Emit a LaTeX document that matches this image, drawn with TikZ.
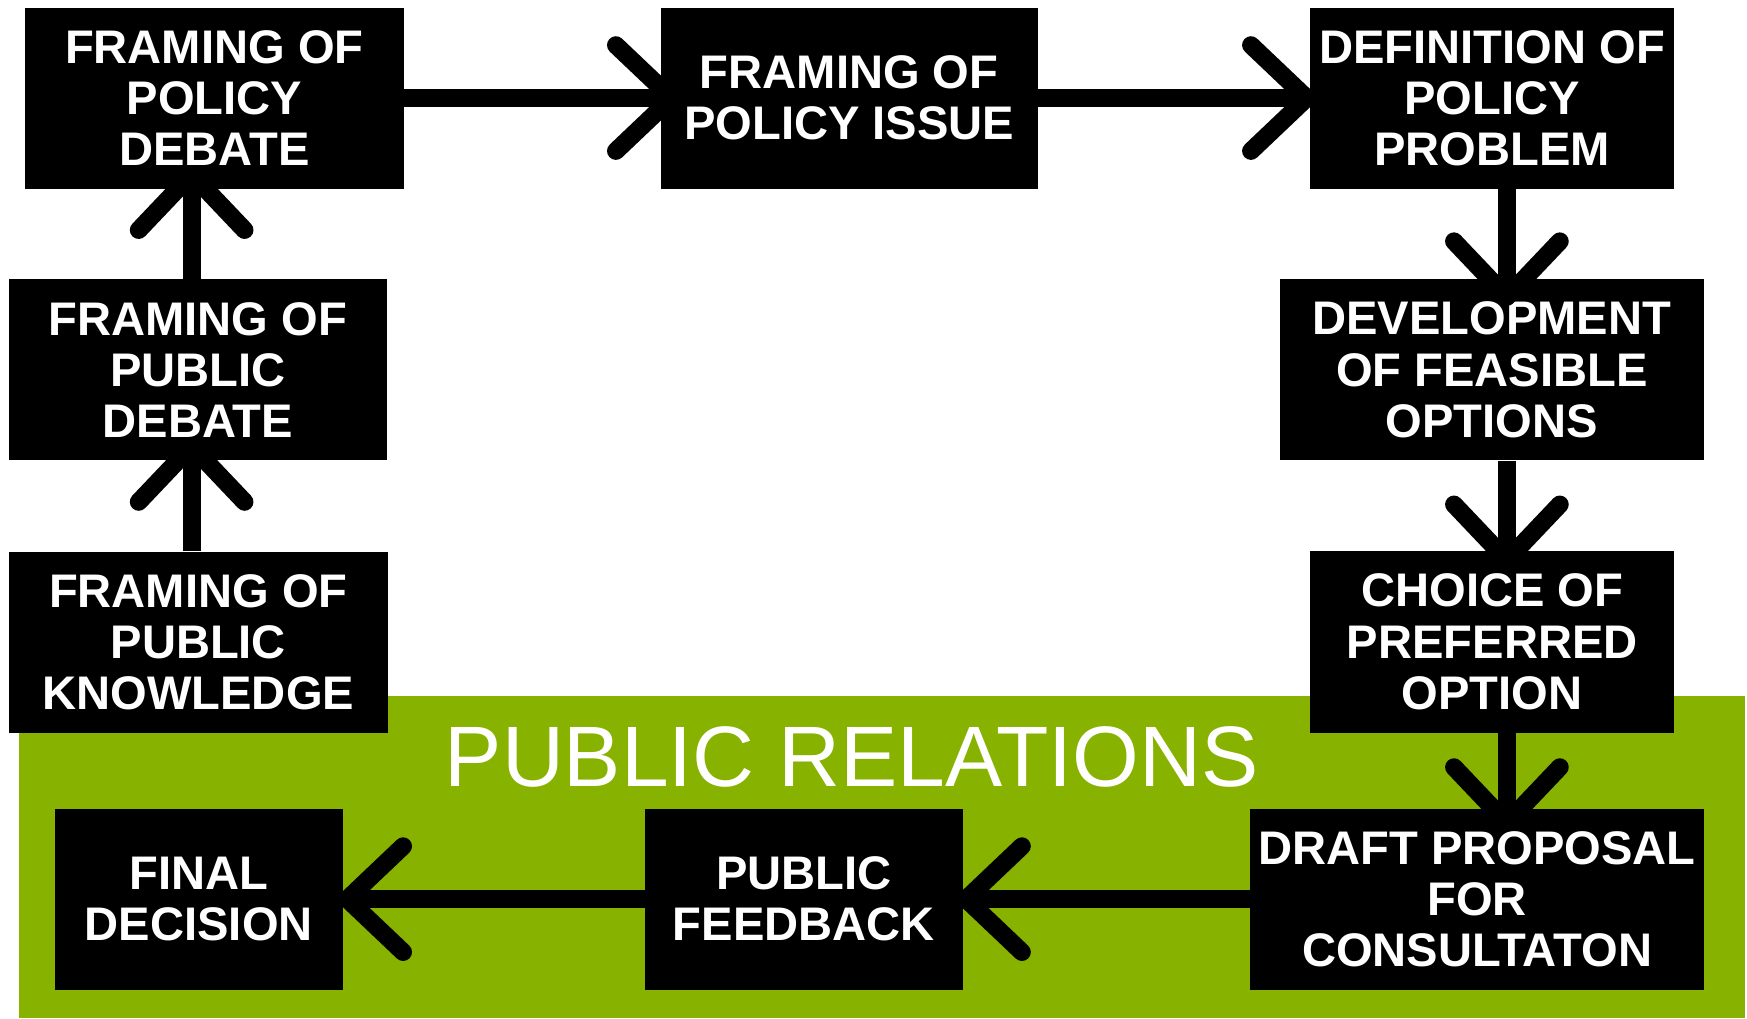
\documentclass[tikz,border=0pt]{standalone}
\usepackage{fontspec}
\setmainfont{Liberation Sans}
\usetikzlibrary{arrows.meta}
\definecolor{prgreen}{RGB}{136,178,0}
\newcommand\bxfont{\fontsize{42.3}{46}\selectfont\bfseries}
\newcommand\prfont{\fontsize{77}{80}\selectfont}
\tikzset{
  box/.style={fill=black, text=white, inner sep=0pt, minimum height=162.5pt,
              align=center, font=\bxfont},
  conn/.style={draw=black, line width=16pt,
              -{Straight Barb[length=50pt,width=95pt,round]}},
  vconn/.style={conn, shorten >=-21pt},
}
\begin{document}
\begin{tikzpicture}[x=1pt,y=-1pt]
\useasboundingbox (0,0) rectangle (1568,913.7);
% green band
\fill[prgreen] (17.4,624.8) rectangle (1566,913.7);
\node[anchor=base west, text=white, font=\prfont, inner sep=0pt] (pr) at (399,706) {PUBLIC RELATIONS};
% boxes
\node[box, minimum width=340pt]   (A) at (192.4,88)    {FRAMING OF\\POLICY\\DEBATE};
\node[box, minimum width=338.4pt] (B) at (762.2,88)    {FRAMING OF\\POLICY ISSUE};
\node[box, minimum width=326.6pt] (C) at (1339.3,88)   {DEFINITION OF\\POLICY\\PROBLEM};
\node[box, minimum width=380pt]   (D) at (1339,332)    {DEVELOPMENT\\OF FEASIBLE\\OPTIONS};
\node[box, minimum width=326.6pt] (E) at (1339.3,576.2){CHOICE OF\\PREFERRED\\OPTION};
\node[box, minimum width=407.6pt] (F) at (1325.8,807)  {DRAFT PROPOSAL\\FOR\\CONSULTATON};
\node[box, minimum width=285pt]   (G) at (721.5,807)   {PUBLIC\\FEEDBACK};
\node[box, minimum width=258.2pt] (H) at (178.5,807)   {FINAL\\DECISION};
\node[box, minimum width=339pt]   (I) at (177.5,332)   {FRAMING OF\\PUBLIC\\DEBATE};
\node[box, minimum width=340pt]   (J) at (178,576.3)   {FRAMING OF\\PUBLIC\\KNOWLEDGE};
% connector columns
\coordinate (xr) at (1352.5,0);
\coordinate (xl) at (172,0);
% connectors
\draw[conn, shorten >=-18pt] (A) -- (B);
\draw[conn, shorten >=-5pt] (B) -- (C);
\draw[vconn, shorten >=-24pt] (C.south -| xr) -- (D.north -| xr);
\draw[vconn, shorten >=-16pt] (D.south -| xr) -- (E.north -| xr);
\draw[vconn] (E.south -| xr) -- (F.north -| xr);
\draw[conn, shorten >=-5pt] (F) -- (G);
\draw[conn, shorten >=-4pt] (G) -- (H);
\draw[vconn] (J.north -| xl) -- (I.south -| xl);
\draw[vconn] (I.north -| xl) -- (A.south -| xl);
\end{tikzpicture}
\end{document}
